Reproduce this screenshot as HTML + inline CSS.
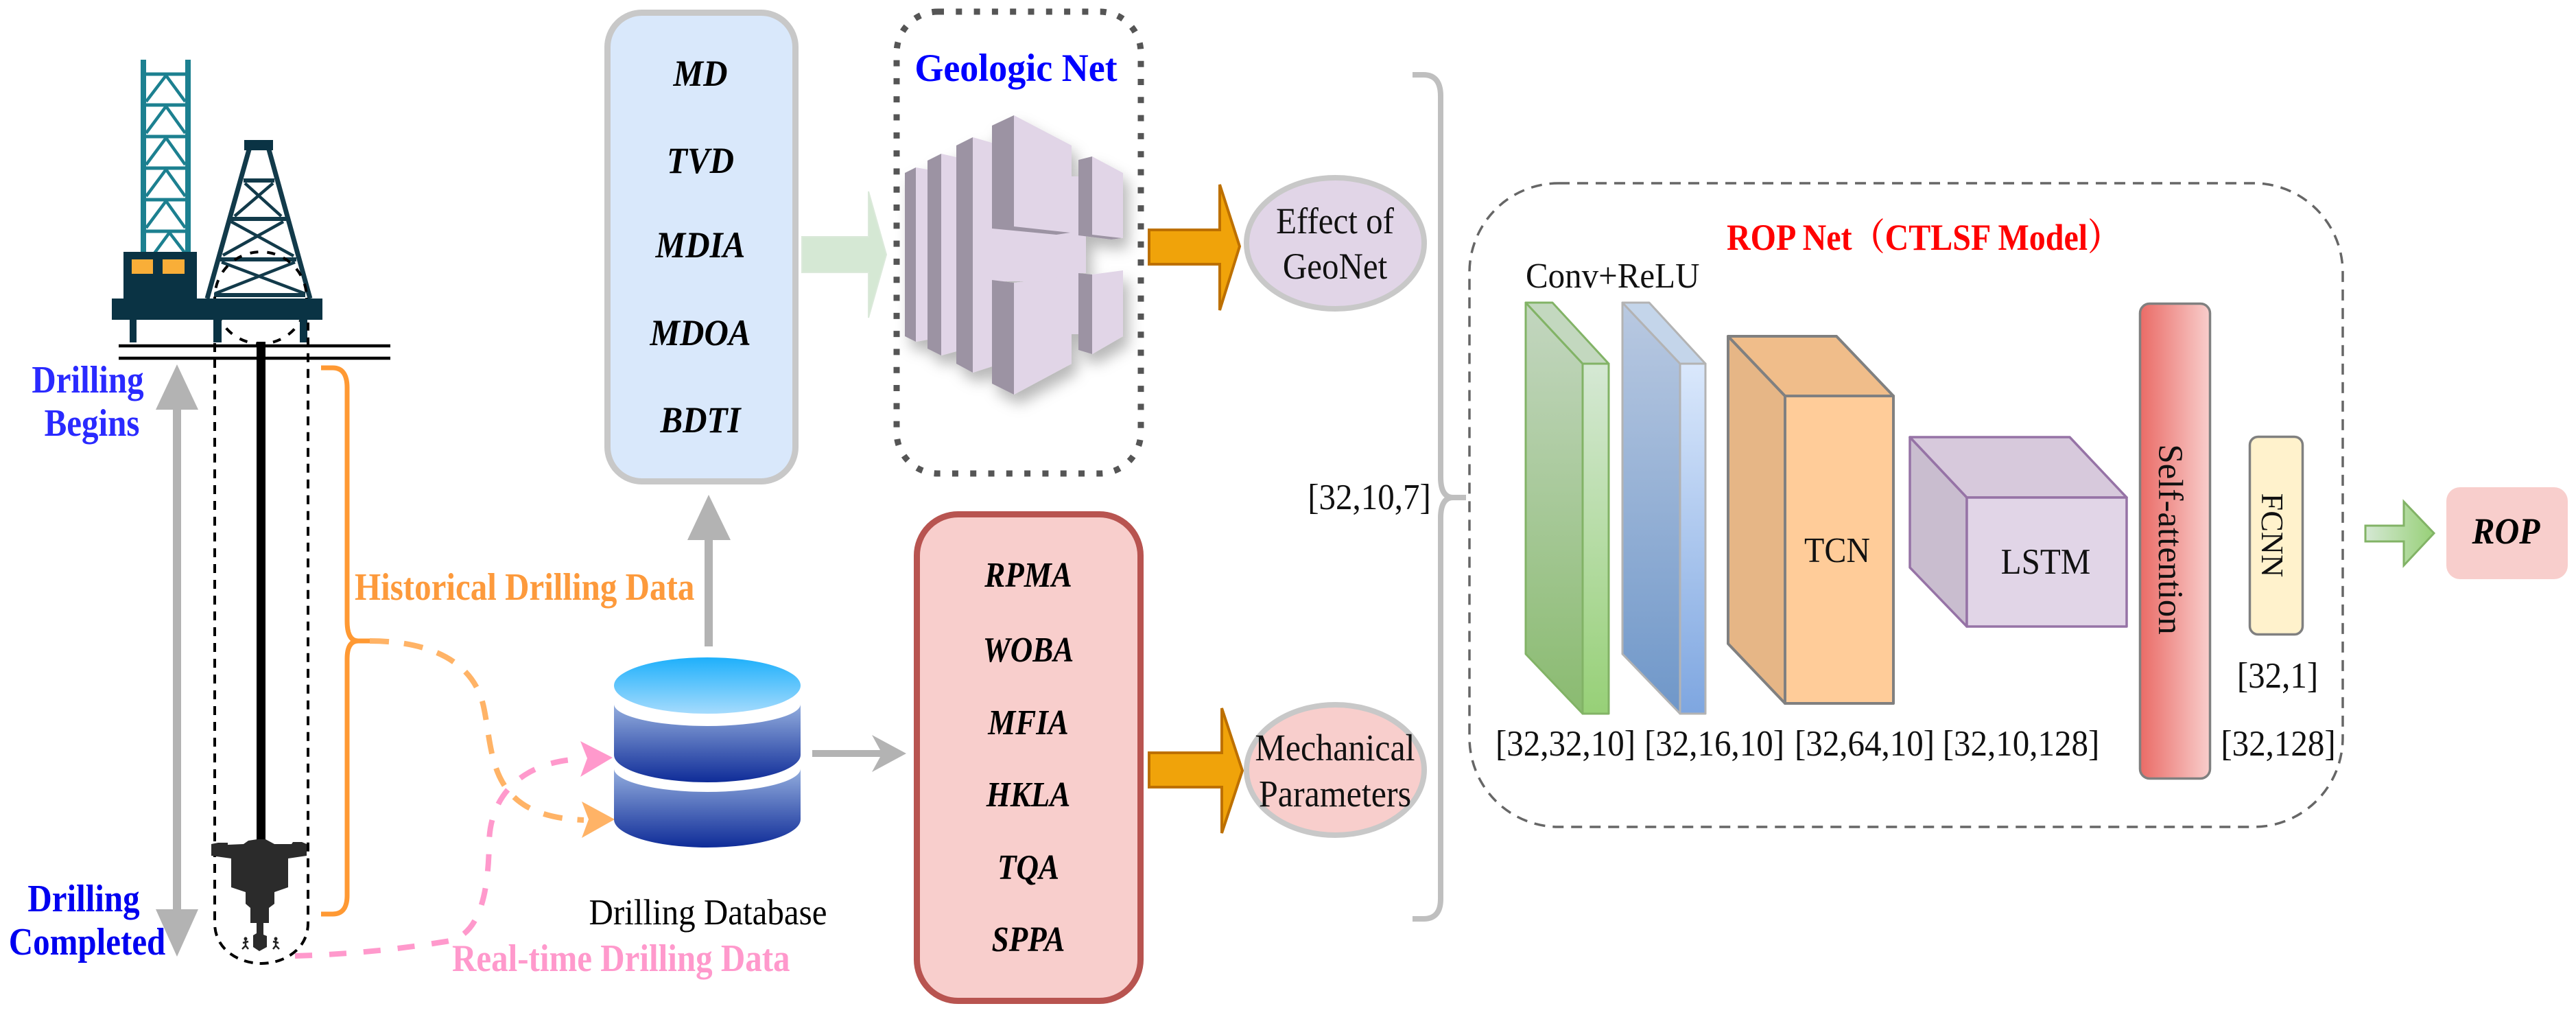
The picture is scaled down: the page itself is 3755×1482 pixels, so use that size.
<!DOCTYPE html>
<html><head><meta charset="utf-8"><title>ROP Net diagram</title>
<style>html,body{margin:0;padding:0;background:#fff}svg{display:block}text{font-family:"Liberation Serif","Noto Serif CJK SC",serif}</style></head>
<body>
<svg xmlns="http://www.w3.org/2000/svg" width="3755" height="1482" viewBox="0 0 3755 1482">
<defs>
<linearGradient id="dbT" x1="0" y1="0" x2="0" y2="1"><stop offset="0" stop-color="#1eb0fb"/><stop offset="1" stop-color="#a5dbfd"/></linearGradient>
<linearGradient id="dbB" x1="0" y1="0" x2="0" y2="1"><stop offset="0" stop-color="#94aede"/><stop offset="1" stop-color="#0f2c98"/></linearGradient>
<linearGradient id="gL" x1="0" y1="0" x2="0" y2="1"><stop offset="0" stop-color="#c3d6c0"/><stop offset="1" stop-color="#8abb70"/></linearGradient>
<linearGradient id="gF" x1="0" y1="0" x2="0" y2="1"><stop offset="0" stop-color="#d5e8d4"/><stop offset="1" stop-color="#97d077"/></linearGradient>
<linearGradient id="bL" x1="0" y1="0" x2="0" y2="1"><stop offset="0" stop-color="#b9c9e1"/><stop offset="1" stop-color="#6f97c9"/></linearGradient>
<linearGradient id="bF" x1="0" y1="0" x2="0" y2="1"><stop offset="0" stop-color="#dae8fc"/><stop offset="1" stop-color="#7ea6e0"/></linearGradient>
<linearGradient id="sa" x1="0" y1="0" x2="1" y2="0"><stop offset="0" stop-color="#ea6b66"/><stop offset="1" stop-color="#f8cecc"/></linearGradient>
<linearGradient id="ga" x1="0" y1="0" x2="1" y2="0"><stop offset="0" stop-color="#d5e8d4"/><stop offset="1" stop-color="#97d077"/></linearGradient>
<filter id="sh" x="-20%" y="-20%" width="140%" height="140%"><feDropShadow dx="8" dy="14" stdDeviation="10" flood-color="#000" flood-opacity=".28"/></filter>
</defs>

<!-- tower -->
<g stroke="#1c8090" fill="none">
<path d="M209 87V369M274 87V369" stroke-width="8"/>
<path d="M209 108H274M209 153H274M209 199H274M209 245H274M209 291H274M209 337H274" stroke-width="5"/>
<path d="M213 148L242 110L270 148M213 194L242 155L270 194M213 240L242 201L270 240M213 286L242 247L270 286M213 332L242 293L270 332M225 369L247 339L270 369" stroke-width="4.5"/>
</g>
<!-- derrick -->
<g stroke="#123a4a" fill="none">
<path d="M302 435L363 218M452 435L392 218" stroke-width="7"/>
<path d="M355 263H400M335 319H417M320 378H432M312 430H445" stroke-width="6"/>
<path d="M357 267L410 315M398 267L342 315M337 323L428 373M413 323L325 372M323 382L445 428M430 382L313 428" stroke-width="4.5"/>
</g>
<rect x="356" y="204" width="42" height="15" fill="#0a3344"/>
<circle cx="380" cy="434" r="67" fill="none" stroke="#000" stroke-width="4" stroke-dasharray="12 13"/>
<g fill="#0a3344">
<rect x="180" y="367" width="107" height="70"/>
<rect x="163" y="435" width="307" height="31"/>
<rect x="189" y="466" width="10" height="33"/>
<rect x="311" y="466" width="12" height="33"/>
<rect x="437" y="466" width="11" height="33"/>
</g>
<rect x="192" y="378" width="31" height="21" fill="#f9ae38"/>
<rect x="237" y="378" width="32" height="21" fill="#f9ae38"/>
<path d="M173 504H569M173 522H569" stroke="#000" stroke-width="4.5" fill="none"/>
<!-- well -->
<path d="M313 500V1345C313 1385 350 1404 381 1404C412 1404 449 1385 449 1345V470" fill="none" stroke="#000" stroke-width="4" stroke-dasharray="13 10"/>
<rect x="374" y="498" width="13" height="728" fill="#000"/>
<path d="M308 1230L318 1228H332V1231L355 1230L362 1225L375 1223H387L400 1230H425L427 1227H440L447 1230V1247L420 1251V1293L400 1300V1317L392 1323V1345H384V1362L389 1364V1380L378 1386L369 1380V1363L374 1360V1345H365V1323L358 1317V1300L337 1293V1251L308 1247Z" fill="#2b2b2b"/>
<g fill="none" stroke="#222" stroke-width="2.5">
<path d="M358 1369V1378L353 1383M358 1378L362 1383M354 1374L362 1372"/>
<path d="M402 1369V1378L398 1383M402 1378L407 1383M398 1372L406 1374"/>
</g>
<circle cx="358" cy="1368" r="2.5" fill="#222"/><circle cx="402" cy="1368" r="2.5" fill="#222"/>
<!-- vertical arrow -->
<path d="M252 597H227L258 531L289 597H264V1325H289L258 1394L227 1325H252Z" fill="#b3b3b3"/>
<!-- bracket -->
<path d="M468 536H485Q506 536 506 565V905Q506 934 522 934H539M522 934Q506 934 506 960V1305Q506 1332 485 1332H468" fill="none" stroke="#ff9933" stroke-width="7"/>
<!-- dashed connectors -->
<path d="M539 934C620 934 690 960 705 1030C720 1100 710 1190 851 1195" fill="none" stroke="#ffb366" stroke-width="8" stroke-dasharray="28 22"/>
<path d="M848 1168L896 1194L848 1221L858 1194Z" fill="#ffb366"/>
<path d="M430 1393C530 1390 600 1380 650 1372C700 1365 712 1300 713 1228C714 1160 760 1110 846 1106" fill="none" stroke="#ff99cc" stroke-width="8" stroke-dasharray="25 25"/>
<path d="M846 1080L893 1104L846 1132L856 1105Z" fill="#ff99cc"/>
<!-- database -->
<ellipse cx="1031" cy="999" rx="136" ry="41" fill="url(#dbT)"/>
<path d="M895 1026A136 32 0 0 0 1167 1026V1100A136 40 0 0 1 895 1100Z" fill="url(#dbB)"/>
<path d="M895 1120A136 34 0 0 0 1167 1120V1194A136 41 0 0 1 895 1194Z" fill="url(#dbB)"/>
<!-- grey arrows -->
<path d="M1027 942V787H1002L1033 721L1065 787H1039V942Z" fill="#b3b3b3"/>
<path d="M1184 1093H1283L1271 1071L1321 1098L1271 1125L1283 1103H1184Z" fill="#b3b3b3"/>

<!-- left texts -->
<g font-size="49" font-weight="bold" text-anchor="middle">
<text transform="matrix(1 0 0 1.15 128 572)" fill="#2a2aff">Drilling</text>
<text transform="matrix(1 0 0 1.15 134 635)" fill="#2a2aff">Begins</text>
<text transform="matrix(1 0 0 1.15 122 1328)" fill="#0000f0">Drilling</text>
<text transform="matrix(1 0 0 1.15 127 1391)" fill="#0000f0">Completed</text>
</g>
<text transform="matrix(1 0 0 1.15 517 874)" font-size="49" font-weight="bold" fill="#fd9a3c">Historical Drilling Data</text>
<text transform="matrix(1 0 0 1.15 659 1415)" font-size="49" font-weight="bold" fill="#ff99cc">Real-time Drilling Data</text>
<text transform="matrix(1 0 0 1.08 1032 1347)" font-size="49" text-anchor="middle" fill="#000">Drilling Database</text>

<!-- blue box -->
<rect x="885.5" y="18.5" width="274" height="683" rx="50" fill="#d9e8fb" stroke="#c8c8c8" stroke-width="9"/>
<g font-size="49" font-weight="bold" font-style="italic" text-anchor="middle" fill="#000">
<text transform="matrix(1 0 0 1.1 1021 125)">MD</text><text transform="matrix(1 0 0 1.1 1021 252)">TVD</text><text transform="matrix(1 0 0 1.1 1021 375)">MDIA</text><text transform="matrix(1 0 0 1.1 1021 503)">MDOA</text><text transform="matrix(1 0 0 1.1 1021 630)">BDTI</text>
</g>
<!-- light green arrow -->
<path d="M1169 345H1266V279L1292 371L1266 463V397H1169Z" fill="#d5e8d4" stroke="#dbe9da" stroke-width="2"/>

<!-- geologic net -->
<rect x="1307" y="17" width="356" height="673" rx="60" fill="none" stroke="#555" stroke-width="9" stroke-dasharray="9 17.3"/>
<text transform="matrix(1 0 0 1.06 1481 118)" font-size="54" font-weight="bold" fill="#0000ff" text-anchor="middle">Geologic Net</text>
<g filter="url(#sh)">
<g fill="#e1d5e7">
<polygon points="1335,244 1352,247 1352,495 1335,498"/>
<polygon points="1372,224 1394,229 1394,512 1372,518"/>
<polygon points="1418,200 1446,208 1446,534 1418,543"/>
<rect x="1418" y="330" width="154" height="80"/>
<polygon points="1562,257 1572,257 1572,487 1562,487"/>
<rect x="1572" y="343" width="11" height="55"/>
<polygon points="1478,168 1562,212 1562,339 1478,330"/>
<polygon points="1478,412 1562,402 1562,530 1478,575"/>
<polygon points="1592,228 1637,252 1637,347 1592,342"/>
<polygon points="1592,400 1637,394 1637,490 1592,516"/>
</g>
<g fill="#9c93a3">
<polygon points="1319,252 1335,244 1335,498 1319,490"/>
<polygon points="1352,234 1372,224 1372,518 1352,508"/>
<polygon points="1394,212 1418,200 1418,543 1394,530"/>
<polygon points="1446,183 1478,168 1478,330 1560,339 1540,342 1446,333"/>
<polygon points="1446,408 1478,412 1478,575 1446,559"/>
<polygon points="1572,233 1592,228 1592,342 1635,347 1620,349 1572,343"/>
<polygon points="1572,398 1592,400 1592,516 1572,510"/>
</g>
</g>
<!-- orange arrows -->
<path d="M1675 335H1778V269L1807 359L1778 452V385H1675Z" fill="#f0a30a" stroke="#bd7000" stroke-width="4"/>
<path d="M1675 1097H1781V1032L1811 1123L1781 1214V1147H1675Z" fill="#f0a30a" stroke="#bd7000" stroke-width="4"/>
<ellipse cx="1946.5" cy="354.5" rx="129.5" ry="95.5" fill="#e1d5e7" stroke="#c8c8c8" stroke-width="8"/>
<ellipse cx="1946.5" cy="1122" rx="129.5" ry="95" fill="#f8cecc" stroke="#c8c8c8" stroke-width="8"/>
<g font-size="49" text-anchor="middle" fill="#111">
<text transform="matrix(1 0 0 1.1 1946 340)">Effect of</text><text transform="matrix(1 0 0 1.1 1946 406)">GeoNet</text>
<text transform="matrix(1 0 0 1.1 1946 1108)" font-size="50">Mechanical</text><text transform="matrix(1 0 0 1.1 1946 1175)" font-size="50">Parameters</text>
</g>

<!-- red box -->
<rect x="1336.5" y="749.5" width="326" height="709" rx="60" fill="#f8cecc" stroke="#b85450" stroke-width="9"/>
<g font-size="45" font-weight="bold" font-style="italic" text-anchor="middle" fill="#000">
<text transform="matrix(1 0 0 1.15 1499 855)">RPMA</text><text transform="matrix(1 0 0 1.15 1499 964)">WOBA</text><text transform="matrix(1 0 0 1.15 1499 1070)">MFIA</text><text transform="matrix(1 0 0 1.15 1499 1175)">HKLA</text><text transform="matrix(1 0 0 1.15 1499 1281)">TQA</text><text transform="matrix(1 0 0 1.15 1499 1386)">SPPA</text>
</g>

<!-- grey brace -->
<path d="M2059 109H2075Q2100 109 2100 140V695Q2100 725 2118 725H2137M2118 725Q2100 725 2100 755V1310Q2100 1339 2075 1339H2059" fill="none" stroke="#bfbfbf" stroke-width="8"/>
<text transform="matrix(1 0 0 1.08 1996 742)" font-size="49" text-anchor="middle" fill="#111">[32,10,7]</text>

<!-- ROP net -->
<rect x="2142" y="267" width="1273" height="938" rx="130" fill="none" stroke="#666" stroke-width="3.5" stroke-dasharray="16 11"/>
<text transform="matrix(1 0 0 1.12 2517 364)" font-size="48" font-weight="bold" fill="#ff0000">ROP Net（CTLSF Model）</text>
<text transform="matrix(1 0 0 1.05 2224 419)" font-size="49" fill="#111">Conv+ReLU</text>

<!-- green prism -->
<g stroke="#82b366" stroke-width="3" stroke-linejoin="round">
<polygon points="2224,441 2307,530 2307,1040 2224,953" fill="url(#gL)"/>
<polygon points="2224,441 2263,441 2345,530 2307,530" fill="#c3d8bf"/>
<rect x="2307" y="530" width="38" height="510" fill="url(#gF)"/>
</g>
<!-- blue prism -->
<g stroke="#b3b3b3" stroke-width="3" stroke-linejoin="round">
<polygon points="2365,441 2449,530 2449,1040 2365,953" fill="url(#bL)"/>
<polygon points="2365,441 2404,441 2486,530 2449,530" fill="#c4d5ea"/>
<rect x="2449" y="530" width="37" height="510" fill="url(#bF)"/>
</g>
<!-- orange prism -->
<g stroke="#808080" stroke-width="4" stroke-linejoin="round">
<polygon points="2519,490 2602,577 2602,1025 2519,938" fill="#e6b686"/>
<polygon points="2519,490 2677,490 2760,577 2602,577" fill="#f0bd8a"/>
<rect x="2602" y="577" width="158" height="448" fill="#ffcc99"/>
</g>
<text transform="matrix(1 0 0 1.07 2678 819)" font-size="48" text-anchor="middle" fill="#111">TCN</text>
<!-- purple prism -->
<g stroke="#9673a6" stroke-width="3.5" stroke-linejoin="round">
<polygon points="2784,637 2867,725 2867,913 2784,827" fill="#c9bdcf"/>
<polygon points="2784,637 3017,637 3100,725 2867,725" fill="#d7c9dc"/>
<rect x="2867" y="725" width="233" height="188" fill="#e1d5e7"/>
</g>
<text transform="matrix(1 0 0 1.07 2982 836)" font-size="49" text-anchor="middle" fill="#111">LSTM</text>
<!-- self-attention -->
<rect x="3119.5" y="442.5" width="102" height="692" rx="14" fill="url(#sa)" stroke="#808080" stroke-width="3.5"/>
<text transform="translate(3147,786) rotate(90)" font-size="51" text-anchor="middle" fill="#111">Self-attention</text>
<!-- FCNN -->
<rect x="3279.5" y="636.5" width="77" height="288" rx="12" fill="#fff2cc" stroke="#808080" stroke-width="3.5"/>
<text transform="translate(3297,780) rotate(90)" font-size="46" text-anchor="middle" fill="#111">FCNN</text>
<!-- dimension labels -->
<g font-size="49" text-anchor="middle" fill="#111">
<text transform="matrix(1 0 0 1.08 2282 1101)">[32,32,10]</text>
<text transform="matrix(1 0 0 1.08 2499 1101)">[32,16,10]</text>
<text transform="matrix(1 0 0 1.08 2718 1101)">[32,64,10]</text>
<text transform="matrix(1 0 0 1.08 2946 1101)">[32,10,128]</text>
<text transform="matrix(1 0 0 1.08 3321 1101)">[32,128]</text>
<text transform="matrix(1 0 0 1.08 3320 1002)">[32,1]</text>
</g>
<!-- output -->
<path d="M3448 766H3504V731L3548 777L3504 824V789H3448Z" fill="url(#ga)" stroke="#82b366" stroke-width="3"/>
<rect x="3566" y="710" width="177" height="134" rx="20" fill="#f8cecc"/>
<text transform="matrix(1 0 0 1.1 3653 792)" font-size="49.5" font-weight="bold" font-style="italic" text-anchor="middle" fill="#000">ROP</text>
</svg>
</body></html>
